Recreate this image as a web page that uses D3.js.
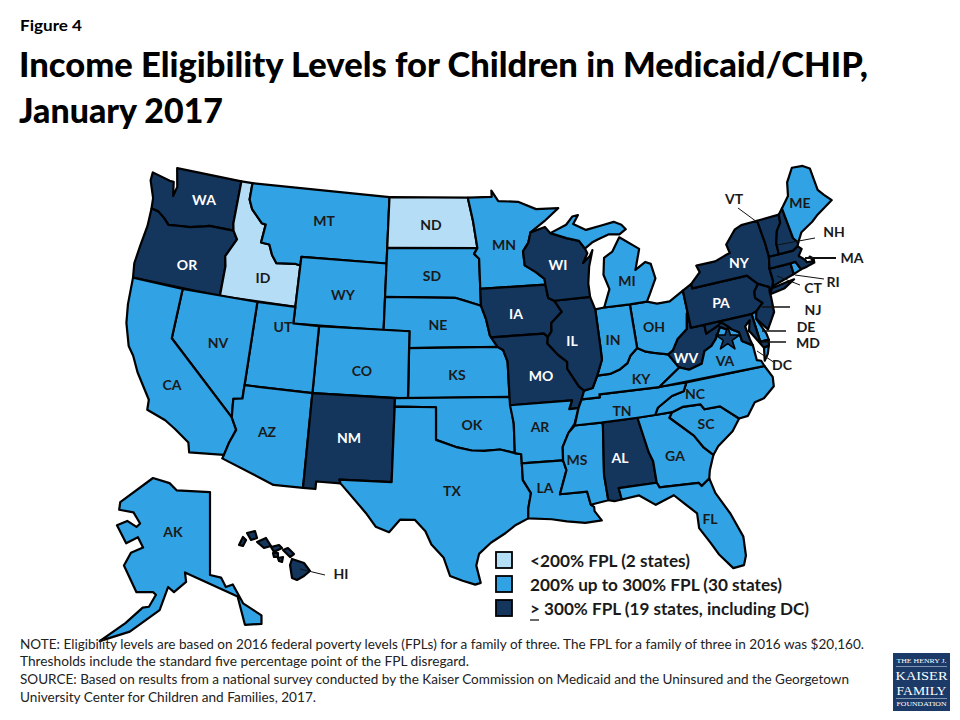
<!DOCTYPE html>
<html><head><meta charset="utf-8">
<script src="https://cdnjs.cloudflare.com/ajax/libs/d3/7.8.5/d3.min.js"></script>
<style>html,body{margin:0;background:#fff}svg{display:block}text{font-family:Lato,"Open Sans",sans-serif}</style>
</head><body><svg id="c" width="960" height="720"></svg>
<script>
const tierNames=["<200% FPL (2 states)","200% up to 300% FPL (30 states)","> 300% FPL (19 states, including DC)"];
const tierColors=["#B5DDF5","#31A3E5","#14355C"];
const lowStates=["ID","ND"];
const highStates=["WA","OR","NM","IA","MO","WI","IL","AL","WV","PA","NY","VT","NH","MA","CT","NJ","MD","DC","HI"];
const footnotes=["NOTE: Eligibility levels are based on 2016 federal poverty levels (FPLs) for a family of three. The FPL for a family of three in 2016 was $20,160.",
"Thresholds include the standard five percentage point of the FPL disregard.",
"SOURCE: Based on results from a national survey conducted by the Kaiser Commission on Medicaid and the Uninsured and the Georgetown",
"University Center for Children and Families, 2017."];
// State outlines, simplified, in [lon,lat]
const shapes={
WA:[[[-124.7,48.4],[-123.1,48.15],[-122.75,48.15],[-122.5,47.3],[-122.35,47.9],[-122.75,49],[-117.03,49],[-117.04,46.4],[-116.92,45.99],[-118.98,46],[-119.3,45.93],[-120.5,45.7],[-121.2,45.65],[-122.3,45.55],[-122.8,45.9],[-123.4,46.2],[-124,46.27],[-124.1,46.9],[-124.7,47.9]]],
OR:[[[-124,46.27],[-123.4,46.2],[-122.8,45.9],[-122.3,45.55],[-121.2,45.65],[-120.5,45.7],[-119.3,45.93],[-118.98,46],[-116.92,45.99],[-116.5,45.5],[-117.2,44.4],[-117.03,43.8],[-117.03,42],[-124,42],[-124.2,42.85],[-124.1,44],[-123.95,45.2]]],
ID:[[[-117.03,49],[-116.05,49],[-116.05,48],[-115.7,47.45],[-114.7,46.7],[-114.35,46.65],[-114.5,45.55],[-113.8,45.5],[-113.45,44.9],[-113,44.45],[-111.5,44.55],[-111.05,44.48],[-111.05,42],[-117.03,42],[-117.03,43.8],[-117.2,44.4],[-116.5,45.5],[-116.92,45.99],[-117.04,46.4]]],
MT:[[[-116.05,49],[-104.05,49],[-104.05,45],[-111.05,45],[-111.05,44.48],[-111.5,44.55],[-113,44.45],[-113.45,44.9],[-113.8,45.5],[-114.5,45.55],[-114.35,46.65],[-114.7,46.7],[-115.7,47.45],[-116.05,48]]],
WY:[[[-111.05,45],[-104.05,45],[-104.05,41],[-111.05,41]]],
ND:[[[-104.05,49],[-97.23,49],[-96.85,47.6],[-96.56,45.94],[-104.05,45.94]]],
SD:[[[-104.05,45.94],[-96.56,45.94],[-96.85,45.6],[-96.45,45.3],[-96.45,43.5],[-96.45,42.49],[-97.85,42.85],[-98.5,43],[-104.05,43]]],
NE:[[[-104.05,43],[-98.5,43],[-97.85,42.85],[-96.45,42.49],[-96.1,41.7],[-95.85,40.7],[-95.31,40],[-102.05,40],[-102.05,41],[-104.05,41]]],
KS:[[[-102.05,40],[-95.31,40],[-94.9,39.8],[-94.61,39.1],[-94.62,37],[-102.04,37]]],
CO:[[[-109.05,41],[-102.05,41],[-102.05,37],[-109.05,37]]],
UT:[[[-114.05,42],[-111.05,42],[-111.05,41],[-109.05,41],[-109.05,37],[-114.05,37]]],
NV:[[[-120,42],[-114.05,42],[-114.05,36.2],[-114.7,36.1],[-114.6,35],[-120,39]]],
CA:[[[-124,42],[-120,42],[-120,39],[-114.6,35],[-114.15,34.3],[-114.5,33.5],[-114.72,32.72],[-117.12,32.53],[-117.3,33.1],[-118.4,33.75],[-119.2,34.15],[-120.6,34.55],[-120.65,35.15],[-121.9,36.6],[-122.5,37.5],[-123,38],[-123.6,39.3],[-123.85,40.4]]],
AZ:[[[-114.05,37],[-109.05,37],[-109.05,31.33],[-111.07,31.33],[-114.8,32.5],[-114.72,32.72],[-114.5,33.5],[-114.15,34.3],[-114.6,35],[-114.7,36.1],[-114.05,36.2]]],
NM:[[[-109.05,37],[-103,37],[-103.04,32],[-106.62,32],[-106.53,31.78],[-108.2,31.78],[-108.2,31.33],[-109.05,31.33]]],
OK:[[[-103,37],[-94.62,37],[-94.43,35.4],[-94.48,33.64],[-95.5,33.9],[-96.6,33.85],[-97.5,33.9],[-98.5,34.1],[-100,34.56],[-100,36.5],[-103,36.5]]],
TX:[[[-103,36.5],[-100,36.5],[-100,34.56],[-98.5,34.1],[-97.5,33.9],[-96.6,33.85],[-95.5,33.9],[-94.48,33.64],[-94.04,33.55],[-94.04,33],[-94.04,32],[-93.55,31.2],[-93.8,30.3],[-93.85,29.7],[-94.7,29.35],[-95.4,28.9],[-96.4,28.35],[-97.2,27.7],[-97.4,27],[-97.15,25.95],[-97.5,25.85],[-98.3,26.1],[-99.1,26.4],[-99.5,27.5],[-100.3,28.3],[-100.7,29.1],[-101.4,29.77],[-102.4,29.77],[-103.1,29],[-104,29.3],[-104.7,30.1],[-106.53,31.78],[-106.62,32],[-103.04,32]]],
MN:[[[-97.23,49],[-95.15,49],[-95.15,49.38],[-94.6,48.72],[-92.9,48.6],[-91.4,48.07],[-89.5,48],[-90.8,47.3],[-92.05,46.7],[-92.3,46.1],[-92.8,45.6],[-92.75,44.75],[-91.9,44.3],[-91.25,43.85],[-91.22,43.5],[-96.45,43.5],[-96.45,45.3],[-96.85,45.6],[-96.56,45.94],[-96.85,47.6]]],
IA:[[[-96.45,43.5],[-91.22,43.5],[-91.1,42.7],[-90.65,42.5],[-90.15,41.8],[-91.05,41.2],[-91.1,40.7],[-91.42,40.38],[-91.7,40.6],[-95.77,40.58],[-95.85,40.7],[-96.1,41.7],[-96.45,42.49]]],
MO:[[[-95.77,40.58],[-91.7,40.6],[-91.42,40.38],[-91.5,40],[-90.75,39.25],[-90.15,38.8],[-90.2,38.4],[-89.5,37.3],[-89.15,37],[-89.4,36.5],[-89.7,36],[-90.37,36],[-90.1,36.5],[-94.62,36.5],[-94.62,37],[-94.61,39.1],[-94.9,39.8],[-95.31,40]]],
AR:[[[-94.62,36.5],[-90.1,36.5],[-90.37,36],[-89.7,36],[-90.1,35.1],[-90.6,34.6],[-91.1,33.8],[-91.17,33],[-94.04,33],[-94.04,33.55],[-94.48,33.64],[-94.43,35.4]]],
LA:[[[-94.04,33],[-91.17,33],[-91,32.4],[-91.6,31],[-89.75,31],[-89.6,30.2],[-89.4,30.05],[-89.4,29.8],[-89,29.2],[-90.1,29.15],[-91.3,29.35],[-92.3,29.55],[-93.85,29.7],[-93.8,30.3],[-93.55,31.2],[-94.04,32]]],
MS:[[[-90.1,35],[-88.2,35],[-88.1,34.9],[-88.47,31.9],[-88.4,30.35],[-89.6,30.2],[-89.75,31],[-91.6,31],[-91,32.4],[-91.17,33],[-91.1,33.8],[-90.6,34.6]]],
AL:[[[-88.2,35],[-85.6,35],[-85.2,32.87],[-85,32.3],[-85,31],[-87.6,31],[-87.5,30.3],[-88,30.25],[-88.4,30.35],[-88.47,31.9],[-88.1,34.9]]],
GA:[[[-85.6,35],[-83.1,35],[-83.35,34.7],[-81.9,33.4],[-81.4,32.6],[-80.85,32.05],[-81.3,31.2],[-81.45,30.72],[-82.05,30.36],[-82.2,30.57],[-84.86,30.7],[-85,31],[-85,32.3],[-85.2,32.87]]],
FL:[[[-87.6,31],[-85,31],[-84.86,30.7],[-82.2,30.57],[-82.05,30.36],[-81.45,30.72],[-81.25,29.8],[-80.55,28.4],[-80.05,26.9],[-80.15,25.75],[-80.4,25.2],[-81.1,25.15],[-81.8,26.1],[-82.2,26.9],[-82.75,27.9],[-82.7,28.8],[-83.4,29.5],[-84,30.1],[-85.3,29.7],[-86.3,30.4],[-87.5,30.3]]],
SC:[[[-83.1,35],[-82.3,35.2],[-81,35.15],[-80.8,34.82],[-79.67,34.8],[-78.55,33.86],[-79.2,33.2],[-80.4,32.5],[-80.85,32.05],[-81.4,32.6],[-81.9,33.4],[-83.35,34.7]]],
NC:[[[-84.32,35],[-84.05,35.4],[-82.9,35.95],[-82,36.1],[-81.68,36.59],[-75.87,36.55],[-75.5,35.8],[-75.6,35.25],[-76.5,34.7],[-77.2,34.6],[-77.9,33.9],[-78.55,33.86],[-79.67,34.8],[-80.8,34.82],[-81,35.15],[-82.3,35.2],[-83.1,35]]],
TN:[[[-89.7,36],[-89.4,36.5],[-88.07,36.5],[-88.07,36.68],[-83.68,36.6],[-81.68,36.59],[-82,36.1],[-82.9,35.95],[-84.05,35.4],[-84.32,35],[-85.6,35],[-88.2,35],[-90.1,35]]],
KY:[[[-89.4,36.5],[-89.15,37],[-88.5,37.1],[-88.05,37.8],[-87.1,37.8],[-86.3,38],[-85.7,38.3],[-85.4,38.7],[-84.8,39.1],[-84.2,38.8],[-83.6,38.65],[-82.6,38.42],[-82,37.55],[-81.97,37.54],[-83.68,36.6],[-88.07,36.68],[-88.07,36.5]]],
WV:[[[-82.6,38.42],[-82,37.55],[-81.97,37.54],[-81.3,37.3],[-80.3,37.5],[-79.9,38.2],[-79.3,38.42],[-78.87,38.77],[-78.35,39.4],[-77.83,39.13],[-77.72,39.32],[-78.2,39.68],[-78.45,39.52],[-79.48,39.2],[-79.48,39.72],[-80.52,39.72],[-80.52,40.64],[-80.6,40.6],[-80.85,39.7],[-81.7,39.2],[-82.2,38.6]]],
VA:[[[-83.68,36.6],[-75.87,36.55],[-76,36.9],[-76.3,37],[-76.3,37.9],[-77,38.3],[-77.05,38.85],[-77.52,39.1],[-77.72,39.32],[-77.83,39.13],[-78.35,39.4],[-78.87,38.77],[-79.3,38.42],[-79.9,38.2],[-80.3,37.5],[-81.3,37.3],[-81.97,37.54]],[[-75.75,36.85],[-75.55,37.6],[-75.15,37.68],[-75.4,37.2]]],
OH:[[[-84.8,39.1],[-84.8,41.72],[-83.45,41.72],[-82.7,41.5],[-81.7,41.5],[-80.52,41.98],[-80.52,40.64],[-80.6,40.6],[-80.85,39.7],[-81.7,39.2],[-82.2,38.6],[-82.6,38.42],[-83.6,38.65],[-84.2,38.8]]],
IN:[[[-87.53,41.72],[-86.82,41.76],[-84.8,41.72],[-84.8,39.1],[-85.4,38.7],[-85.7,38.3],[-86.3,38],[-87.1,37.8],[-88.05,37.8],[-87.55,38.7],[-87.53,39.35]]],
IL:[[[-90.65,42.5],[-87.8,42.5],[-87.53,41.72],[-87.53,39.35],[-87.55,38.7],[-88.05,37.8],[-88.5,37.1],[-89.15,37],[-89.5,37.3],[-90.2,38.4],[-90.15,38.8],[-90.75,39.25],[-91.5,40],[-91.42,40.38],[-91.1,40.7],[-91.05,41.2],[-90.15,41.8]]],
WI:[[[-92.05,46.7],[-90.8,46.95],[-90.4,46.55],[-89.1,46.15],[-88.1,45.9],[-87.7,45.4],[-87.55,45.1],[-88,44.55],[-87.4,44.9],[-87.1,45.25],[-87.55,44.3],[-87.8,43.3],[-87.8,42.5],[-90.65,42.5],[-91.1,42.7],[-91.22,43.5],[-91.25,43.85],[-91.9,44.3],[-92.75,44.75],[-92.8,45.6],[-92.3,46.1]]],
MI:[[[-86.82,41.76],[-84.8,41.72],[-83.45,41.72],[-83.15,42.1],[-82.45,43],[-82.6,43.9],[-83,44.07],[-83.9,43.7],[-83.3,44.9],[-84.75,45.78],[-85.5,45],[-86.25,44.7],[-86.5,43.7],[-86.2,42.8]],[[-90.4,46.55],[-89,46.95],[-88.4,47.4],[-87.9,47.45],[-88.4,46.95],[-87.4,46.5],[-86,46.65],[-85,46.75],[-84.4,46.5],[-84.1,46.2],[-84.7,45.95],[-85.6,46.05],[-86.5,45.85],[-87.05,45.7],[-87.7,45.4],[-88.1,45.9],[-89.1,46.15]]],
PA:[[[-80.52,41.98],[-79.76,42.27],[-79.76,42],[-75.35,42],[-74.7,41.36],[-75.13,40.97],[-75.2,40.6],[-74.75,40.2],[-75.4,39.8],[-75.79,39.72],[-80.52,39.72]]],
NY:[[[-79.76,42],[-79.76,42.27],[-78.9,42.85],[-79.05,43.27],[-77.5,43.27],[-76.5,43.5],[-76.2,43.55],[-76.3,44.1],[-75.3,44.85],[-74.7,45],[-73.35,45],[-73.3,44.2],[-73.25,43.6],[-73.27,42.75],[-73.5,42.05],[-73.5,41.3],[-73.65,41],[-74,40.7],[-73.92,41],[-74.7,41.36],[-75.35,42]],[[-74,40.58],[-73.75,40.9],[-72.6,41],[-71.9,41.05],[-72.8,40.7]]],
NJ:[[[-74.7,41.36],[-73.92,41],[-74,40.7],[-74,40.4],[-74.1,39.5],[-74.9,38.6],[-75.55,39.4],[-75.4,39.8],[-74.75,40.2],[-75.2,40.6],[-75.13,40.97]]],
DE:[[[-75.79,39.72],[-75.4,39.8],[-75.55,39.4],[-75.1,38.4],[-75.05,38],[-75.7,38]]],
MD:[[[-79.48,39.72],[-75.79,39.72],[-75.7,38],[-75.05,38],[-75.15,37.68],[-75.55,37.6],[-75.85,38.1],[-76.3,38.8],[-76.05,39.4],[-76.5,39.1],[-76.4,38.3],[-76.3,37.9],[-77,38.3],[-77.05,38.85],[-77.52,39.1],[-77.72,39.32],[-78.2,39.68],[-78.45,39.52],[-79.48,39.2]]],
CT:[[[-73.5,42.05],[-71.8,42.02],[-71.8,41.35],[-73.65,41],[-73.5,41.3]]],
RI:[[[-71.8,42.02],[-71.38,42.02],[-71.15,41.5],[-71.8,41.35]]],
MA:[[[-73.5,42.05],[-73.27,42.75],[-71.3,42.7],[-70.85,42.87],[-70.6,42.65],[-71,42.3],[-70.6,41.95],[-70.55,41.8],[-70.05,41.75],[-70.2,42.07],[-69.95,41.9],[-70,41.65],[-70.65,41.55],[-71.15,41.5],[-71.38,42.02],[-71.8,42.02]]],
VT:[[[-73.35,45],[-71.5,45],[-71.6,44.5],[-72.05,44.1],[-72.4,43.4],[-72.46,42.73],[-73.27,42.75],[-73.25,43.6],[-73.3,44.2]]],
NH:[[[-71.5,45],[-71.1,45.3],[-70.98,43.4],[-70.7,43.07],[-70.85,42.87],[-71.3,42.7],[-72.46,42.73],[-72.4,43.4],[-72.05,44.1],[-71.6,44.5]]],
ME:[[[-71.1,45.3],[-70.3,45.9],[-70,46.7],[-69.22,47.45],[-68.3,47.35],[-67.8,47.07],[-67.8,45.7],[-67.45,45.3],[-67,44.85],[-68.5,44.3],[-69.1,44],[-70.2,43.6],[-70.7,43.07],[-70.98,43.4]]]
};
const alaska=[[[-156.5,71.3],[-152,70.7],[-150,69.85],[-141,69.65],[-141,60],[-138,59.7],[-136.7,58.6],[-134.8,58.9],[-132,56.7],[-127,55.3],[-127,54.3],[-131.5,54.2],[-133.5,57.5],[-147.8,60.3],[-147.5,59.2],[-150.8,58],[-152.4,58.6],[-154.7,55.9],[-162.8,53.4],[-171,52.3],[-164,54.4],[-159.3,56.2],[-157.6,56.3],[-155.7,57.7],[-156.5,58],[-161,58],[-164.4,61.1],[-162.5,62.6],[-159.2,63.2],[-160.6,64.4],[-163.8,63.7],[-166.3,65.8],[-163.5,66.3],[-161,65.6],[-160,66],[-161.8,67.3],[-165.7,67.6],[-165.4,68.5]]];
const hawaii=[
[[-155.77,20.37],[-154.68,20.09],[-154.14,19.53],[-154.68,19.18],[-155.32,18.9],[-155.77,19.04],[-155.95,19.95]],
[[-156.59,21],[-156.14,21.14],[-155.59,20.72],[-155.95,20.51]],
[[-157.68,21.21],[-156.95,21.35],[-156.68,21.14],[-157.41,20.86]],
[[-157.5,20.79],[-157.05,20.79],[-157.05,20.51],[-157.41,20.51]],
[[-157.05,20.44],[-156.59,20.51],[-156.68,20.16],[-156.95,20.23]],
[[-158.95,21.56],[-158.14,21.84],[-157.68,21.28],[-158.32,21.14]],
[[-159.86,22.19],[-159.14,22.33],[-158.95,21.84],[-159.5,21.7]],
[[-160.59,21.35],[-160.23,21.91],[-159.95,21.7],[-160.23,21.28]]];
const dcPoint=[-78,38.62];
const figureLabel="Figure 4", titleLines=["Income Eligibility Levels for Children in Medicaid/CHIP,","January 2017"];
// Layout: label centres and leader lines, in page pixels
const labelLayout={WA:[204,200],OR:[187,265],CA:[172,385],NV:[218,343],ID:[263,278],MT:[324,221],WY:[343,295],UT:[283,327],AZ:[267,432],CO:[362,371],NM:[349,438],ND:[431,225],SD:[432,276],NE:[438,325],KS:[457,375],OK:[472,425],TX:[452,491],MN:[504,245],IA:[516,314],MO:[541,376],AR:[540,427],LA:[545,488],MS:[577,460],AL:[620,458],WI:[558,265],IL:[572,341],IN:[613,340],MI:[627,281],OH:[654,327],KY:[641,379],TN:[622,411],GA:[675,456],FL:[710,519],SC:[706,424],NC:[695,394],VA:[725,361],WV:[686,358],PA:[721,303],NY:[739,263],ME:[800,203],AK:[173,532],VT:[734,199],NH:[834,232],MA:[852,258],RI:[833,282],CT:[813,288],NJ:[813,310],DE:[806,327],MD:[808,343],DC:[782,365],HI:[341,574]};
const whiteLabels=["WA","OR","NM","IA","MO","WI","IL","AL","WV","PA","NY"];
const leaders=[[738,208,757,222,1],[815,238,777,245,1],[836,258,805,258,2],[824,279,795,275,1],[800,285,777,276,1],[790,307,762,307,1.5],[786,331,762,331,1.5],[786,342,762,342,1.5],[775,363,757,351,1],[325,575,300,569,1]];

const svg=d3.select("#c");
const tierOf=c=>lowStates.includes(c)?0:highStates.includes(c)?2:1;
const main=d3.geoConicEqualArea().parallels([29.5,45.5]).rotate([100,0]).center([0,38]).scale(955).translate([437,382]);
// The reference map is a little wider than a true conic: stretch x only
const stretch=d3.scaleLinear().domain([143,812]).range([131,825]);
const stretched=d3.geoTransform({point(x,y){this.stream.point(stretch(x),y);}});
const mainPath=d3.geoPath({stream:s=>main.stream(stretched.stream(s))});
const oriented=rings=>rings.map(r=>{const closed=[...r,r[0]];const p={type:"Polygon",coordinates:[closed]};return {type:"Polygon",coordinates:[d3.geoArea(p)>2*Math.PI?closed.slice().reverse():closed]};});
const g=svg.append("g").attr("stroke","#000").attr("stroke-width",2.2).attr("stroke-linejoin","round");
const list=Object.keys(shapes).map(code=>({code,geo:{type:"GeometryCollection",geometries:oriented(shapes[code])}}));
g.selectAll("path.st").data(list).join("path").attr("class","st")
 .attr("d",d=>mainPath(d.geo)).attr("fill",d=>tierColors[tierOf(d.code)]);
// Alaska inset
const akX=d3.scaleLinear().domain([-156.5,-141]).range([153,210]);
const akY=d3.scaleLinear().domain([71.3,60]).range([478,575]);
const akPath=d3.geoPath(d3.geoTransform({point(x,y){this.stream.point(akX(x),akY(y));}}));
g.append("path").attr("d",akPath({type:"Polygon",coordinates:alaska.map(r=>[...r,r[0]])})).attr("fill",tierColors[tierOf("AK")]);
// Hawaii inset
const hiX=d3.scaleLinear().domain([-159.5,-155.5]).range([251,295]);
const hiY=d3.scaleLinear().domain([22.05,19.6]).range([535,570]);
const hiPath=d3.geoPath(d3.geoTransform({point(x,y){this.stream.point(hiX(x),hiY(y));}}));
g.selectAll("path.hi").data(hawaii).join("path").attr("class","hi")
 .attr("d",r=>hiPath({type:"Polygon",coordinates:[[...r,r[0]]]})).attr("fill",tierColors[tierOf("HI")]);
// DC star
const dcXY=main(dcPoint);
g.append("path").attr("d",d3.symbol(d3.symbolStar,170)()).attr("transform",`translate(${stretch(dcXY[0])},${dcXY[1]})`).attr("fill",tierColors[tierOf("DC")]).attr("stroke-width",1.6);
// leaders
svg.selectAll("line.ld").data(leaders).join("line").attr("class","ld")
 .attr("x1",d=>d[0]).attr("y1",d=>d[1]).attr("x2",d=>d[2]).attr("y2",d=>d[3]).attr("stroke","#111").attr("stroke-width",d=>d[4]);
// labels
svg.selectAll("text.lb").data(Object.keys(labelLayout)).join("text").attr("class","lb")
 .attr("x",d=>labelLayout[d][0]).attr("y",d=>labelLayout[d][1]).attr("dy","0.36em")
 .attr("text-anchor","middle").attr("font-size",14).attr("font-weight",700)
 .attr("fill",d=>whiteLabels.includes(d)?"#fff":"#1a1a1a").text(d=>d);
// headings
svg.append("text").attr("x",20).attr("y",31).attr("font-size",16).attr("font-weight",700).attr("textLength",62).attr("lengthAdjust","spacingAndGlyphs").attr("fill","#000").text(figureLabel);
svg.selectAll("text.tt").data(titleLines).join("text").attr("class","tt").attr("x",19).attr("y",(d,i)=>77+i*45.5)
 .attr("font-size",35).attr("font-weight",900).attr("fill","#000").attr("lengthAdjust","spacingAndGlyphs").attr("textLength",(d,i)=>[849,204][i]).text(d=>d);
// legend
const lg=svg.append("g");
tierNames.forEach((t,i)=>{
 const y=d3.scaleLinear().domain([0,1]).range([552,576])(i);
 lg.append("rect").attr("x",496).attr("y",y).attr("width",16).attr("height",16).attr("fill",tierColors[i]).attr("stroke","#000").attr("stroke-width",1.8);
 lg.append("text").attr("x",530).attr("y",y+15).attr("font-size",17).attr("font-weight",700).attr("fill","#1a1a1a").attr("lengthAdjust","spacingAndGlyphs").attr("textLength",[160,252,279][i]).text(t);
});
lg.append("line").attr("x1",530).attr("x2",539).attr("y1",620).attr("y2",620).attr("stroke","#1a1a1a").attr("stroke-width",1.3);
// notes
svg.selectAll("text.nt").data(footnotes).join("text").attr("class","nt").attr("x",20).attr("y",(d,i)=>[649,666,684,702][i])
 .attr("font-size",14).attr("fill","#222").attr("lengthAdjust","spacingAndGlyphs").attr("textLength",(d,i)=>[844,449,829,296][i]).text(d=>d);
// logo
const lo=svg.append("g");
lo.append("rect").attr("x",893).attr("y",653).attr("width",57).attr("height",58).attr("fill","#1B3A68");
[["THE HENRY J.",663,6.5,50],["KAISER",680,13,52],["FAMILY",695,13,50],["FOUNDATION",706,6.5,50]].forEach(d=>{
 lo.append("text").attr("x",921.5).attr("y",d[1]).attr("text-anchor","middle").attr("font-size",d[2]).attr("lengthAdjust","spacingAndGlyphs").attr("textLength",d[3]).attr("fill","#fff").style("font-family","'Liberation Serif',serif").text(d[0]);
});
[[666.5],[698.5]].forEach(d=>lo.append("line").attr("x1",896).attr("x2",947).attr("y1",d[0]).attr("y2",d[0]).attr("stroke","#c8d4e4").attr("stroke-width",.6));
</script></body></html>
